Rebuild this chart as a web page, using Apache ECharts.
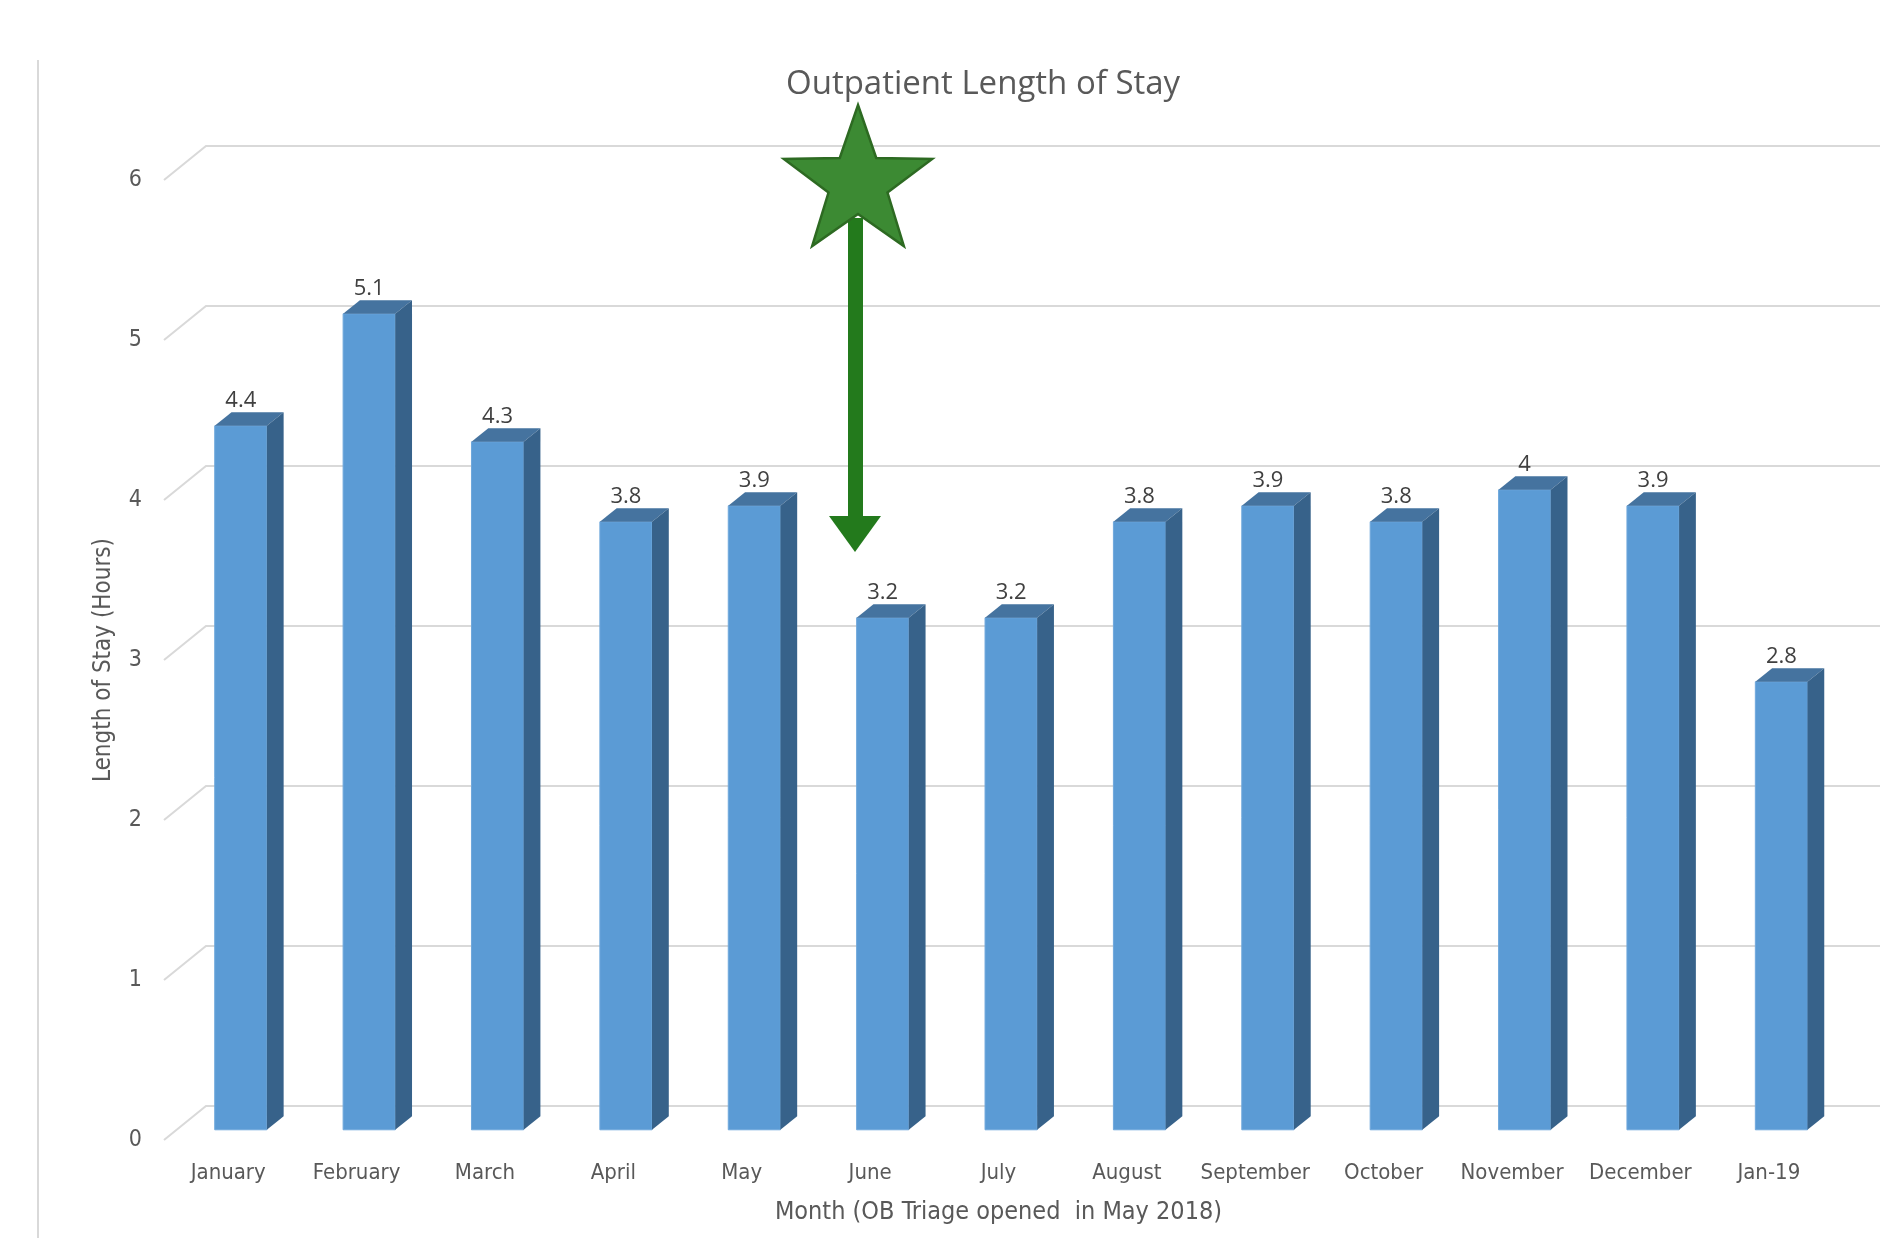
<!DOCTYPE html>
<html>
<head>
<meta charset="utf-8">
<script src="https://cdn.jsdelivr.net/npm/echarts@6/dist/echarts.min.js"></script>
<style>html,body{margin:0;padding:0;background:#fff;}#c{width:1880px;height:1238px;}</style>
</head>
<body>
<div id="c"></div>
<script>
const categories = ['January','February','March','April','May','June','July','August','September','October','November','December','Jan-19'];
const values = [4.4, 5.1, 4.3, 3.8, 3.9, 3.2, 3.2, 3.8, 3.9, 3.8, 4, 3.9, 2.8];
const yTicks = [0, 1, 2, 3, 4, 5, 6];

const NARROW = "'Liberation Sans Narrow', 'DejaVu Sans Condensed', sans-serif";
const chart = echarts.init(document.getElementById('c'));

// 5-point star annotation
function starPoints(cx, cy, R, r) {
  const pts = [];
  for (let k = 0; k < 10; k++) {
    const a = -Math.PI / 2 + k * Math.PI / 5;
    const rr = k % 2 === 0 ? R : r;
    pts.push([cx + rr * Math.cos(a), cy + rr * Math.sin(a)]);
  }
  return pts;
}

const WALL_X = 0.327, WALL_Y = 0.265; // wall depth relative to band width
const option = {
  backgroundColor: '#ffffff',
  animation: false,
  title: {
    text: 'Outpatient Length of Stay',
    left: 781, top: 63,
    textStyle: { fontFamily: 'Open Sans', fontSize: 33, fontWeight: 'normal', color: '#595959' }
  },
  grid: { left: 164, top: 180, right: 47, bottom: 98 },
  xAxis: {
    type: 'category', data: categories,
    axisLine: { show: false }, axisTick: { show: false },
    axisLabel: { interval: 0, margin: 22, fontFamily: NARROW, fontSize: 22, color: '#595959' },
    name: 'Month (OB Triage opened  in May 2018)', nameLocation: 'middle', nameGap: 60,
    nameTextStyle: { fontFamily: NARROW, fontSize: 25, color: '#595959' }
  },
  yAxis: {
    type: 'value', min: 0, max: 6, interval: 1,
    splitLine: { show: false }, axisLine: { show: false }, axisTick: { show: false },
    axisLabel: { margin: 22, fontFamily: NARROW, fontSize: 23, color: '#595959' },
    name: 'Length of Stay (Hours)', nameLocation: 'middle', nameGap: 48,
    nameTextStyle: { fontFamily: NARROW, fontSize: 24, color: '#595959' }
  },
  series: [
    {
      type: 'custom', z: 1, silent: true,
      data: yTicks.map(v => [0, v]),
      encode: { x: 0, y: 1 },
      renderItem: function (params, api) {
        const cs = params.coordSys;
        const band = api.size([1, 0])[0];
        const dx = band * WALL_X, dy = band * WALL_Y;
        const y = api.coord([0, api.value(1)])[1];
        return {
          type: 'polyline',
          shape: { points: [[cs.x, y], [cs.x + dx, y - dy], [cs.x + cs.width + dx + 6, y - dy]] },
          style: { stroke: '#D9D9D9', lineWidth: 2, fill: null }
        };
      }
    },
    {
      type: 'custom', z: 2,
      data: values.map((v, i) => [i, v]),
      encode: { x: 0, y: 1 },
      renderItem: function (params, api) {
        const i = api.value(0), v = api.value(1);
        const base = api.coord([i, 0]);
        const top = api.coord([i, v]);
        const band = api.size([1, 0])[0];
        const dx = band * WALL_X, dy = band * WALL_Y;
        const fx = dx * 0.3, fy = dy * 0.3;
        const bx = dx * 0.4, by = dy * 0.4;
        const hw = band * 0.203;
        const L = base[0] + fx - hw, R = base[0] + fx + hw;
        const B = base[1] - fy, T = top[1] - fy;
        return {
          type: 'group',
          children: [
            { type: 'rect', shape: { x: L, y: T, width: R - L, height: B - T },
              style: { fill: '#5B9BD5', stroke: '#6FA8DC', lineWidth: 1 } },
            { type: 'polygon', shape: { points: [[L, T], [R, T], [R + bx, T - by], [L + bx, T - by]] },
              style: { fill: '#45739F' } },
            { type: 'polygon', shape: { points: [[R, T], [R + bx, T - by], [R + bx, B - by], [R, B]] },
              style: { fill: '#37628A' } },
            { type: 'text', x: (L + R) / 2, y: T - by,
              style: { text: String(v), align: 'center', verticalAlign: 'bottom',
                       fontFamily: 'Open Sans', fontSize: 22, fill: '#404040' } }
          ]
        };
      }
    }
  ],
  graphic: [
    { type: 'line', shape: { x1: 38, y1: 60, x2: 38, y2: 1238 }, style: { stroke: '#D9D9D9', lineWidth: 2 }, z: 0 },
    { type: 'rect', shape: { x: 848, y: 218, width: 15, height: 302 }, style: { fill: '#237A1C' }, z: 10 },
    { type: 'polygon', shape: { points: [[829, 516], [881, 516], [855, 552]] }, style: { fill: '#237A1C' }, z: 10 },
    { type: 'polygon', shape: { points: starPoints(858, 183, 78, 31) },
      style: { fill: '#3C8A33', stroke: '#2D6A22', lineWidth: 2.5 }, z: 11 }
  ]
};
chart.setOption(option);
</script>
</body>
</html>
